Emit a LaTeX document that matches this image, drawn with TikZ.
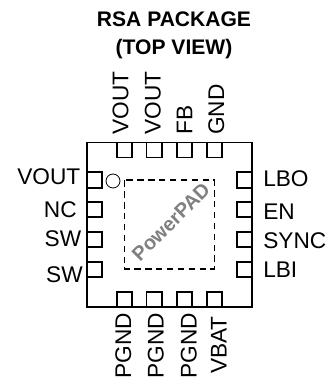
\documentclass[tikz,border=0pt]{standalone}
\usepackage{fontspec}
\setmainfont{Liberation Sans}
\begin{document}
\begin{tikzpicture}[line cap=butt,line join=miter,x=0.75pt,y=0.75pt,
        pinlabel/.style={inner sep=0pt,font=\fontsize{17}{20}\selectfont},
        titlelabel/.style={inner sep=0pt,anchor=base,font=\fontsize{15.8}{19}\selectfont\bfseries},
        padlabel/.style={inner sep=0pt,font=\fontsize{15}{18}\selectfont\bfseries,text=gray}]
                \useasboundingbox (0,0) rectangle (327,377);
                % package outline
                \draw [line width=1.1pt] (87,234.5) rectangle (252,70);
                % pads on top
                \draw [line width=0.85pt] (117,234.5) rectangle (132,219.5);
                \draw [line width=0.85pt] (146.5,234.5) rectangle (162,219.5);
                \draw [line width=0.85pt] (177,234.5) rectangle (192,219.5);
                \draw [line width=0.85pt] (207,234.5) rectangle (222,219.5);
                % pads on bottom
                \draw [line width=0.85pt] (117,70) rectangle (132,85);
                \draw [line width=0.85pt] (146.5,70) rectangle (162,85);
                \draw [line width=0.85pt] (177,70) rectangle (192,85);
                \draw [line width=0.85pt] (207,70) rectangle (222,85);
                % pads on the left
                \draw [line width=0.85pt] (87,205) rectangle (102,189);
                \draw [line width=0.85pt] (87,175) rectangle (102,160);
                \draw [line width=0.85pt] (87,145) rectangle (102,130);
                \draw [line width=0.85pt] (87,115) rectangle (102,100);
                % pads on the right
                \draw [line width=0.85pt] (237,205) rectangle (252,189);
                \draw [line width=0.85pt] (237,175) rectangle (252,160);
                \draw [line width=0.85pt] (237,145) rectangle (252,130);
                \draw [line width=0.85pt] (237,115) rectangle (252,100);
                % pin one mark and thermal pad
                \draw [line width=0.6pt] (113,196) circle (7);
                \draw [line width=0.85pt,dash pattern=on 5pt off 3.2pt] (124.5,197) rectangle (214.5,108);
                \node [padlabel,rotate=45] (powerpad) at (171,155) {PowerPAD};
                % title
                \node [titlelabel] (title1) at (174,350) {RSA PACKAGE};
                \node [titlelabel] (title2) at (174,322) {(TOP VIEW)};
                % top labels
                \node [pinlabel,rotate=90,anchor=base west] (top1) at (128.3,242) {VOUT};
                \node [pinlabel,rotate=90,anchor=base west] (top2) at (160.5,242) {VOUT};
                \node [pinlabel,rotate=90,anchor=base west] (top3) at (192.3,242) {FB};
                \node [pinlabel,rotate=90,anchor=base west] (top4) at (224,242) {GND};
                % bottom labels
                \node [pinlabel,rotate=90,anchor=base east] (bot1) at (131,64) {PGND};
                \node [pinlabel,rotate=90,anchor=base east] (bot2) at (163.5,64) {PGND};
                \node [pinlabel,rotate=90,anchor=base east] (bot3) at (196.5,64) {PGND};
                \node [pinlabel,rotate=90,anchor=base east] (bot4) at (226.5,61) {VBAT};
                % left labels
                \node [pinlabel,anchor=base east] (left1) at (80.5,192) {VOUT};
                \node [pinlabel,anchor=base east] (left2) at (77,159) {NC};
                \node [pinlabel,anchor=base east] (left3) at (81.5,130) {SW};
                \node [pinlabel,anchor=base east] (left4) at (83,94) {SW};
                % right labels
                \node [pinlabel,anchor=base west] (right1) at (263,190) {LBO};
                \node [pinlabel,anchor=base west] (right2) at (263,157) {EN};
                \node [pinlabel,anchor=base west] (right3) at (263,128) {SYNC};
                \node [pinlabel,anchor=base west] (right4) at (263,99) {LBI};
\end{tikzpicture}
\end{document}
